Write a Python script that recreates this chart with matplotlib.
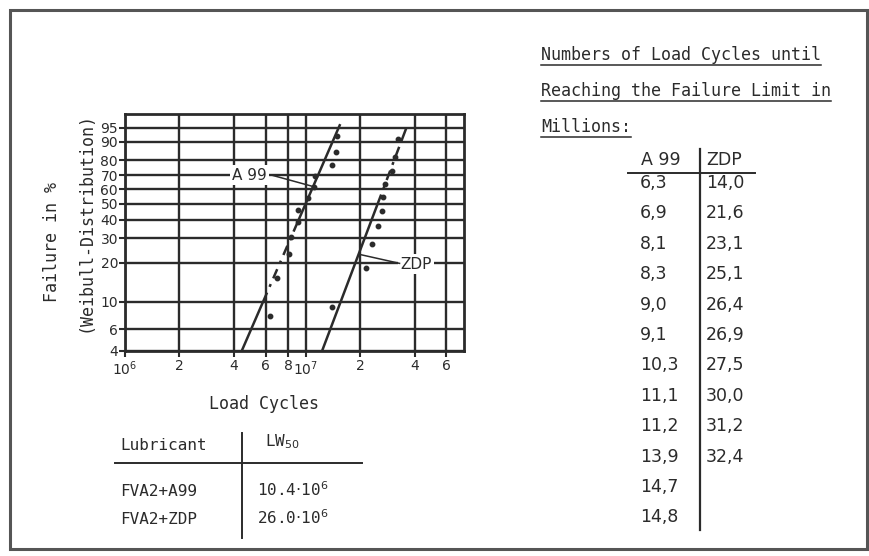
import matplotlib

matplotlib.use("Agg")
import matplotlib.pyplot as plt
import numpy as np
from matplotlib.lines import Line2D
from matplotlib.patches import Rectangle
from matplotlib.ticker import FixedLocator, NullLocator

W, H = 869, 556
INK = "#2b2b2b"
MONO = "DejaVu Sans Mono"
SANS = "DejaVu Sans"

# load cycles until failure, in millions (table on the right)
a99_cycles_mio = [6.3, 6.9, 8.1, 8.3, 9.0, 9.1, 10.3, 11.1, 11.2, 13.9, 14.7, 14.8]
zdp_cycles_mio = [14.0, 21.6, 23.1, 25.1, 26.4, 26.9, 27.5, 30.0, 31.2, 32.4]
# plotted failure probability of each specimen, in %
a99_failure_pct = [7.7, 15.4, 23.1, 30.8, 38.5, 46.2, 53.8, 61.5, 69.2, 76.9, 84.6, 92.3]
zdp_failure_pct = [9.1, 18.2, 27.3, 36.4, 45.5, 54.5, 63.6, 72.7, 81.8, 90.9]

# end points of the fitted Weibull lines
a99_fit_cycles = [4.42e6, 1.55e7]
a99_fit_pct = [4, 96]
zdp_fit_cycles = [1.23e7, 3.6e7]
zdp_fit_pct = [4, 95]

x_ticks = [1e6, 2e6, 4e6, 6e6, 8e6, 1e7, 2e7, 4e7, 6e7]
x_tick_labels = [r"$10^6$", "2", "4", "6", "8", r"$10^7$", "2", "4", "6"]
y_ticks = [4, 6, 10, 20, 30, 40, 50, 60, 70, 80, 90, 95]

lubricants = ["FVA2+A99", "FVA2+ZDP"]
lw50_mio = [10.4, 26.0]


def weibull(p):
    p = np.clip(np.asarray(p, dtype=float), 0.01, 99.99) / 100.0
    return np.log(-np.log(1.0 - p))


def weibull_inv(w):
    return 100.0 * (1.0 - np.exp(-np.exp(np.asarray(w, dtype=float))))


def fx(px):
    return px / W


def fy(py):
    return 1.0 - py / H


def fit_segment(cycles, pct, p_from, p_to):
    # straight line on Weibull paper between the two fit end points
    w0, w1 = weibull(pct[0]), weibull(pct[1])
    l0, l1 = np.log10(cycles[0]), np.log10(cycles[1])
    ws = weibull([p_from, p_to])
    xs = 10 ** (l0 + (ws - w0) / (w1 - w0) * (l1 - l0))
    return xs, [p_from, p_to]


def draw_fit(ax, cycles, pct, dash_from, dash_to):
    parts = [
        (pct[0], dash_from, "-"),
        (dash_from, dash_to, (0, (4, 2.5, 1.2, 2.5))),
        (dash_to, pct[1], "-"),
    ]
    for p0, p1, ls in parts:
        xs, ys = fit_segment(cycles, pct, p0, p1)
        ax.plot(xs, ys, color=INK, lw=1.8, ls=ls, solid_capstyle="butt", zorder=3)


def fmt_comma(v):
    return f"{v:.1f}".replace(".", ",")


def main() -> None:
    plt.rcParams["mathtext.fontset"] = "dejavusans"
    fig = plt.figure(figsize=(W / 100, H / 100), dpi=100)
    fig.patch.set_facecolor("white")

    # page frame
    fig.add_artist(
        Rectangle((fx(10), fy(549)), fx(857), (539) / H, transform=fig.transFigure,
                  fill=False, edgecolor="#555555", lw=2.2)
    )

    ax = fig.add_axes([fx(125), fy(351), fx(339), 237 / H])
    ax.set_xscale("log")
    ax.set_yscale("function", functions=(weibull, weibull_inv))
    ax.set_xlim(1e6, 7.5e7)
    ax.set_ylim(4, 98)

    ax.xaxis.set_major_locator(FixedLocator(x_ticks))
    ax.xaxis.set_minor_locator(NullLocator())
    ax.set_xticklabels(x_tick_labels)
    ax.yaxis.set_major_locator(FixedLocator(y_ticks))
    ax.yaxis.set_minor_locator(NullLocator())
    ax.set_yticklabels([str(t) for t in y_ticks])

    ax.grid(True, color=INK, lw=1.7)
    for sp in ax.spines.values():
        sp.set_color(INK)
        sp.set_linewidth(2)
    ax.tick_params(axis="both", direction="out", length=4, width=1.5, color=INK,
                   labelsize=10, labelcolor=INK, pad=2)
    ax.tick_params(axis="y", pad=1)
    for lab in ax.get_xticklabels() + ax.get_yticklabels():
        lab.set_family(SANS)

    draw_fit(ax, a99_fit_cycles, a99_fit_pct, 10, 40)
    draw_fit(ax, zdp_fit_cycles, zdp_fit_pct, 50, 90)

    ax.plot(np.array(a99_cycles_mio) * 1e6, a99_failure_pct, "o", ms=3.2, color=INK, zorder=4)
    ax.plot(np.array(zdp_cycles_mio) * 1e6, zdp_failure_pct, "o", ms=3.2, color=INK, zorder=4)

    # curve labels with leader lines
    bbox = dict(boxstyle="square,pad=0.15", fc="white", ec="none")
    ax.text(4.9e6, 70, "A 99", fontsize=11, family=SANS, color=INK,
            ha="center", va="center", bbox=bbox, zorder=5)
    ax.plot([6.5e6, 1.167e7], [70, 70], color=INK, lw=1.1, zorder=5)
    ax.plot([6.5e6, 1.1e7], [70, 62], color=INK, lw=1.1, zorder=5)
    ax.text(4.05e7, 19.5, "ZDP", fontsize=11, family=SANS, color=INK,
            ha="center", va="center", bbox=bbox, zorder=5)
    ax.plot([3.3e7, 2.0e7], [19.8, 23], color=INK, lw=1.1, zorder=5)

    # axis titles
    fig.text(fx(264), fy(404), "Load Cycles", family=MONO, fontsize=12,
             color=INK, ha="center", va="center")
    fig.text(fx(52), fy(242), "Failure in %", family=MONO, fontsize=12,
             color=INK, ha="center", va="center", rotation=90)
    fig.text(fx(85), fy(222), "(Weibull-Distribution)", family=MONO, fontsize=12,
             color=INK, ha="center", va="center", rotation=90)

    # LW50 table below the chart
    fig.add_artist(Line2D([fx(115), fx(362)], [fy(463), fy(463)], color=INK, lw=1.4))
    fig.add_artist(Line2D([fx(242), fx(242)], [fy(433), fy(538)], color=INK, lw=1.4))
    fig.text(fx(120), fy(445), "Lubricant", family=MONO, fontsize=11.5,
             color=INK, ha="left", va="center")
    fig.text(fx(265), fy(442), r"LW$_{50}$", family=MONO, fontsize=11.5,
             color=INK, ha="left", va="center")
    for i, (lub, lw50) in enumerate(zip(lubricants, lw50_mio)):
        y = 492 + 28 * i
        fig.text(fx(120), fy(y), lub, family=MONO, fontsize=11.5, color=INK,
                 ha="left", va="center")
        fig.text(fx(257), fy(y - 2), f"{lw50:.1f}" + r"$\cdot$10$^{6}$", family=MONO,
                 fontsize=11.5, color=INK, ha="left", va="center")

    # heading on the right, underlined
    heading = ["Numbers of Load Cycles until", "Reaching the Failure Limit in", "Millions:"]
    head_texts = []
    for i, line in enumerate(heading):
        t = fig.text(fx(541), fy(55 + 36 * i), line, family=MONO, fontsize=12,
                     color=INK, ha="left", va="center")
        head_texts.append(t)

    # values table on the right
    fig.text(fx(661), fy(160), "A 99", family=SANS, fontsize=12.5, color=INK,
             ha="center", va="center")
    fig.text(fx(706), fy(160), "ZDP", family=SANS, fontsize=12.5, color=INK,
             ha="left", va="center")
    fig.add_artist(Line2D([fx(628), fx(755)], [fy(173), fy(173)], color=INK, lw=1.4))
    fig.add_artist(Line2D([fx(700), fx(700)], [fy(149), fy(530)], color=INK, lw=1.6))
    for i, v in enumerate(a99_cycles_mio):
        fig.text(fx(640), fy(183 + 30.4 * i), fmt_comma(v), family=SANS, fontsize=12.5,
                 color=INK, ha="left", va="center")
    for i, v in enumerate(zdp_cycles_mio):
        fig.text(fx(706), fy(183 + 30.4 * i), fmt_comma(v), family=SANS, fontsize=12.5,
                 color=INK, ha="left", va="center")

    fig.canvas.draw()
    renderer = fig.canvas.get_renderer()
    for t in head_texts:
        bb = t.get_window_extent(renderer)
        y0 = (bb.y0 - 1) / fig.bbox.height
        fig.add_artist(Line2D([bb.x0 / fig.bbox.width, bb.x1 / fig.bbox.width], [y0, y0],
                              color=INK, lw=1.1))

    fig.savefig("out.png", dpi=100)
    plt.close(fig)


if __name__ == "__main__":
    main()
